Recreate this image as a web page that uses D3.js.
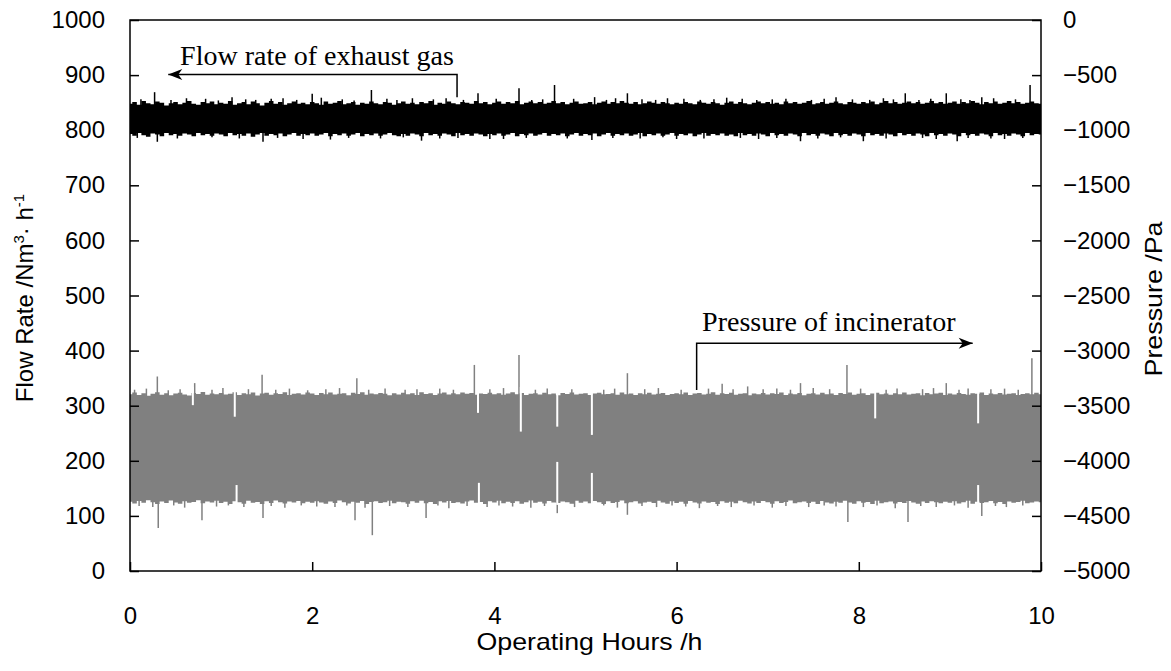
<!DOCTYPE html>
<meta charset="utf-8">
<style>
    body { margin: 0; background: #fff; }
    .axis text { font-family: "Liberation Sans", Arial, sans-serif; font-size: 24px; fill: #000; }
    .axis line { stroke: #000; stroke-width: 1.5; }
    .axis path { display: none; }
    .title { font-family: "Liberation Sans", Arial, sans-serif; font-size: 24px; fill: #000; }
    .note { font-family: "Liberation Serif", "Times New Roman", serif; font-size: 28px; fill: #000; }
</style>
<svg width="1171" height="671"></svg>
<script src="https://cdn.jsdelivr.net/npm/d3@7"></script>
<script>
    // x grid: one envelope sample every 0.05 h
    var sampleHours = d3.range(201).map(i => i / 20);

    // flow rate of exhaust gas, Nm3/h : upper / lower edge of the band
    var flowUpper = [
        848,851,846,853,849,847,852,850,845,849,851,847,850,853,848,846,851,849,852,847,
        850,848,853,846,849,851,847,852,849,845,850,853,848,851,846,849,852,848,850,847,
        851,849,846,852,848,850,853,847,849,851,846,850,848,852,849,847,851,850,846,849,
        852,848,850,847,851,849,853,846,850,848,852,849,847,851,850,848,853,849,851,847,
        850,852,848,851,849,853,847,850,852,849,851,848,850,853,849,851,847,850,852,848,
        849,851,847,850,852,848,851,849,853,850,848,851,847,849,852,850,848,851,849,847,
        850,848,851,849,847,852,850,848,851,849,846,850,852,848,851,849,847,850,852,849,
        851,848,850,847,852,849,851,848,850,853,847,849,851,848,850,852,849,847,851,850,
        848,851,849,852,847,850,853,849,851,848,850,852,849,851,848,850,853,849,851,848,
        850,852,848,851,849,853,850,847,851,849,852,848,850,853,849,851,848,850,852,849,
        848
    ];
    var flowLower = [
        793,790,795,791,788,794,792,789,795,791,793,790,794,792,789,795,791,793,790,794,
        792,789,795,791,793,790,794,788,792,795,790,793,791,794,789,792,795,790,793,791,
        794,790,792,795,789,793,791,794,790,792,795,789,793,791,794,790,792,795,791,789,
        793,790,794,792,789,795,791,793,790,794,792,789,795,791,793,790,794,792,789,793,
        791,794,790,792,795,789,793,791,794,790,792,795,790,793,791,794,789,792,795,790,
        793,791,794,789,792,795,790,793,791,794,790,792,795,789,793,791,794,790,792,795,
        790,793,791,794,789,792,795,790,793,791,794,790,792,789,795,791,793,790,794,792,
        789,795,791,793,790,794,792,789,795,791,793,790,794,792,789,795,791,793,790,794,
        792,789,795,791,793,790,794,792,789,795,791,793,790,794,792,789,795,791,793,790,
        794,792,789,795,791,793,790,794,792,789,795,791,793,790,794,792,789,795,791,793,
        792
    ];
    // single spikes of the flow signal [hour, Nm3/h]
    var flowSpikes = [
        [0.27,869],[0.62,858],[1.12,860],[1.55,857],[2.0,866],[2.1,859],[2.65,873],[3.1,858],
        [3.82,867],[4.27,876],[4.66,882],[5.1,860],[5.46,867],[5.9,858],[6.55,859],[7.2,857],
        [7.75,860],[8.51,867],[8.96,867],[9.35,860],[9.88,882],
        [0.12,856],[0.45,855],[0.83,857],[0.97,854],[1.27,856],[1.38,855],[1.68,858],[1.83,855],
        [2.33,856],[2.46,854],[2.82,857],[2.93,855],[3.33,856],[3.47,858],[3.66,855],[4.02,857],
        [4.41,855],[4.53,856],[4.87,857],[5.23,855],[5.33,858],[5.62,856],[5.77,855],[6.08,857],
        [6.26,855],[6.41,856],[6.72,857],[6.88,855],[7.05,856],[7.48,855],[7.62,857],[7.93,856],
        [8.12,855],[8.27,858],[8.38,856],[8.66,855],[8.79,857],[9.12,856],[9.22,855],[9.48,858],
        [9.72,856],
        [0.3,779],[1.46,779],[2.2,783],[3.2,781],[4.1,784],[5.07,782],[6.0,784],[7.36,780],
        [8.05,780],[9.08,780],[9.6,784],
        [0.08,786],[0.52,785],[0.9,787],[1.2,785],[1.62,786],[1.9,784],[2.4,786],[2.75,785],
        [3.0,787],[3.4,785],[3.6,786],[3.95,784],[4.35,786],[4.8,785],[5.3,786],[5.6,785],
        [5.85,787],[6.3,785],[6.7,786],[6.9,784],[7.1,786],[7.55,785],[7.8,787],[8.3,785],
        [8.7,786],[8.85,784],[9.2,786],[9.45,785],[9.8,786]
    ];

    // pressure of incinerator, Pa : upper / lower edge of the band
    var pressureUpper = [
        -3395,-3380,-3402,-3388,-3410,-3392,-3378,-3400,-3386,-3405,-3390,-3382,-3398,-3408,-3385,-3393,-3376,-3401,-3389,-3396,
        -3384,-3399,-3391,-3377,-3404,-3388,-3395,-3381,-3407,-3390,-3383,-3400,-3387,-3394,-3379,-3402,-3392,-3386,-3398,-3381,
        -3390,-3403,-3385,-3396,-3380,-3399,-3391,-3387,-3406,-3383,-3394,-3378,-3401,-3389,-3397,-3384,-3392,-3405,-3386,-3399,
        -3382,-3395,-3388,-3402,-3379,-3393,-3386,-3404,-3390,-3381,-3398,-3387,-3396,-3380,-3392,-3385,-3401,-3389,-3394,-3383,
        -3397,-3386,-3401,-3390,-3378,-3395,-3384,-3403,-3391,-3388,-3399,-3382,-3396,-3389,-3405,-3385,-3393,-3380,-3398,-3392,
        -3387,-3402,-3390,-3383,-3397,-3393,-3386,-3400,-3381,-3395,-3389,-3404,-3388,-3396,-3382,-3399,-3391,-3385,-3402,-3394,
        -3388,-3396,-3381,-3403,-3390,-3385,-3398,-3392,-3379,-3401,-3387,-3394,-3383,-3400,-3391,-3386,-3405,-3389,-3397,-3384,
        -3399,-3386,-3393,-3380,-3402,-3389,-3395,-3384,-3406,-3391,-3388,-3398,-3382,-3396,-3390,-3403,-3385,-3394,-3381,-3400,
        -3392,-3387,-3404,-3390,-3383,-3397,-3389,-3401,-3386,-3395,-3380,-3399,-3391,-3388,-3405,-3384,-3396,-3390,-3382,-3402,
        -3389,-3398,-3385,-3394,-3400,-3387,-3392,-3381,-3403,-3390,-3396,-3384,-3399,-3391,-3386,-3404,-3393,-3388,-3397,-3383,
        -3395
    ];
    var pressureLower = [
        -4372,-4388,-4365,-4380,-4358,-4376,-4392,-4369,-4383,-4361,-4378,-4390,-4367,-4381,-4374,-4359,-4386,-4370,-4379,-4363,
        -4384,-4371,-4393,-4366,-4377,-4389,-4362,-4380,-4373,-4391,-4368,-4382,-4360,-4375,-4387,-4370,-4379,-4364,-4385,-4372,
        -4381,-4366,-4378,-4390,-4369,-4383,-4361,-4376,-4388,-4372,-4380,-4365,-4392,-4374,-4368,-4384,-4377,-4363,-4386,-4371,
        -4375,-4389,-4367,-4380,-4362,-4385,-4373,-4391,-4368,-4379,-4364,-4382,-4376,-4388,-4370,-4360,-4381,-4374,-4393,-4366,
        -4378,-4363,-4386,-4371,-4383,-4367,-4390,-4375,-4361,-4380,-4372,-4387,-4365,-4379,-4384,-4369,-4376,-4389,-4362,-4381,
        -4370,-4385,-4364,-4377,-4391,-4368,-4382,-4373,-4360,-4386,-4375,-4366,-4388,-4379,-4371,-4384,-4363,-4378,-4390,-4367,
        -4383,-4372,-4389,-4365,-4378,-4387,-4369,-4381,-4374,-4392,-4366,-4380,-4371,-4385,-4362,-4377,-4388,-4370,-4382,-4364,
        -4376,-4390,-4368,-4383,-4373,-4361,-4386,-4377,-4369,-4384,-4371,-4393,-4365,-4379,-4387,-4372,-4381,-4363,-4378,-4389,
        -4367,-4380,-4374,-4391,-4362,-4385,-4376,-4369,-4388,-4373,-4382,-4364,-4379,-4390,-4370,-4384,-4366,-4377,-4386,-4372,
        -4381,-4368,-4387,-4375,-4363,-4389,-4371,-4382,-4377,-4365,-4386,-4373,-4391,-4369,-4380,-4374,-4362,-4385,-4378,-4370,
        -4376
    ];
    // single spikes of the pressure signal [hour, Pa]
    var pressureSpikes = [
        [0.30,-3235],[0.71,-3295],[1.45,-3220],[2.49,-3250],[3.78,-3130],[4.27,-3040],[5.46,-3205],
        [6.5,-3300],[7.36,-3295],[7.87,-3130],[8.96,-3295],[9.9,-3070],
        [0.05,-3355],[0.18,-3345],[0.42,-3360],[0.55,-3350],[0.9,-3355],[1.02,-3340],[1.3,-3350],
        [1.6,-3355],[1.75,-3345],[1.95,-3360],[2.15,-3350],[2.3,-3340],[2.62,-3355],[2.8,-3345],
        [3.02,-3355],[3.15,-3350],[3.4,-3345],[3.55,-3355],[3.95,-3350],[4.1,-3340],[4.45,-3355],
        [4.58,-3345],[4.85,-3350],[5.2,-3355],[5.32,-3345],[5.65,-3350],[5.8,-3340],[6.05,-3355],
        [6.35,-3345],[6.62,-3350],[6.78,-3325],[6.95,-3350],[7.1,-3345],[7.25,-3355],[7.5,-3340],
        [7.68,-3350],[8.02,-3345],[8.3,-3355],[8.42,-3345],[8.7,-3350],[8.82,-3340],[9.1,-3355],
        [9.2,-3345],[9.45,-3350],[9.6,-3345],[9.75,-3355],
        [0.31,-4610],[0.79,-4540],[1.46,-4520],[2.47,-4540],[2.66,-4675],[3.25,-4520],[4.69,-4475],
        [5.46,-4490],[7.88,-4555],[8.54,-4555],[9.35,-4500],
        [0.1,-4410],[0.25,-4420],[0.48,-4405],[0.6,-4425],[0.95,-4415],[1.08,-4405],[1.25,-4420],
        [1.55,-4410],[1.7,-4425],[1.88,-4405],[2.05,-4415],[2.25,-4420],[2.38,-4405],[2.58,-4425],
        [2.85,-4410],[3.05,-4420],[3.38,-4405],[3.5,-4430],[3.7,-4410],[3.92,-4420],[4.05,-4405],
        [4.2,-4415],[4.4,-4425],[4.55,-4410],[4.88,-4420],[5.2,-4405],[5.35,-4425],[5.62,-4410],
        [5.78,-4420],[5.95,-4405],[6.1,-4415],[6.25,-4430],[6.45,-4410],[6.6,-4420],[6.85,-4405],
        [7.05,-4425],[7.2,-4410],[7.45,-4420],[7.62,-4405],[7.75,-4415],[8.05,-4420],[8.2,-4405],
        [8.4,-4430],[8.68,-4410],[8.85,-4420],[9.05,-4405],[9.2,-4425],[9.5,-4410],[9.62,-4420],
        [9.8,-4405]
    ];
    // short dropouts in the pressure band [hour, from Pa, to Pa]
    var pressureGaps = [
        [0.69,-3330,-3495],[1.15,-3330,-3600],[1.17,-4450,-4220],[3.82,-3330,-3565],[3.83,-4450,-4200],
        [4.29,-3330,-3735],[4.69,-3330,-3690],[4.69,-4010,-4400],[5.07,-3330,-3765],[5.07,-4110,-4450],
        [8.18,-3330,-3615],[9.31,-3330,-3660],[9.31,-4450,-4220]
    ];

    // axis ticks
    var hourTicks = [0, 2, 4, 6, 8, 10];
    var flowTicks = [0, 100, 200, 300, 400, 500, 600, 700, 800, 900, 1000];
    var pressureTicks = [0, -500, -1000, -1500, -2000, -2500, -3000, -3500, -4000, -4500, -5000];

    var svg = d3.select('svg'),
        margin = { top: 20, right: 130, bottom: 100, left: 130 },
        width = +svg.attr('width') - margin.left - margin.right,
        height = +svg.attr('height') - margin.top - margin.bottom;

    var x = d3.scaleLinear().domain([0, 10]).range([0, width]),
        yFlow = d3.scaleLinear().domain([0, 1000]).range([height, 0]),
        yPres = d3.scaleLinear().domain([-5000, 0]).range([height, 0]);

    var g = svg.append('g')
        .attr('transform', 'translate(' + margin.left + ',' + margin.top + ')');

    g.append('clipPath').attr('id', 'plot')
        .append('rect').attr('width', width).attr('height', height);

    var marks = g.append('g').attr('clip-path', 'url(#plot)');

    // pressure band (grey)
    var pressureArea = d3.area()
        .x((d, i) => x(sampleHours[i]))
        .y0((d, i) => yPres(pressureLower[i]))
        .y1(d => yPres(d))
        .curve(d3.curveStep);
    marks.append('path')
        .datum(pressureUpper)
        .attr('fill', '#808080')
        .attr('d', pressureArea);

    marks.selectAll('.pspike')
        .data(pressureSpikes)
        .enter().append('line')
        .attr('class', 'pspike')
        .attr('x1', d => x(d[0])).attr('x2', d => x(d[0]))
        .attr('y1', yPres(-3880)).attr('y2', d => yPres(d[1]))
        .attr('stroke', '#808080').attr('stroke-width', 1.5);

    marks.selectAll('.pgap')
        .data(pressureGaps)
        .enter().append('line')
        .attr('class', 'pgap')
        .attr('x1', d => x(d[0])).attr('x2', d => x(d[0]))
        .attr('y1', d => yPres(d[1])).attr('y2', d => yPres(d[2]))
        .attr('stroke', '#fff').attr('stroke-width', 2);

    // flow band (black)
    var flowArea = d3.area()
        .x((d, i) => x(sampleHours[i]))
        .y0((d, i) => yFlow(flowLower[i]))
        .y1(d => yFlow(d))
        .curve(d3.curveStep);
    marks.append('path')
        .datum(flowUpper)
        .attr('fill', '#000')
        .attr('d', flowArea);

    marks.selectAll('.fspike')
        .data(flowSpikes)
        .enter().append('line')
        .attr('class', 'fspike')
        .attr('x1', d => x(d[0])).attr('x2', d => x(d[0]))
        .attr('y1', yFlow(820)).attr('y2', d => yFlow(d[1]))
        .attr('stroke', '#000').attr('stroke-width', 1.5);

    // axes, ticks pointing inward
    var fmt = d3.format('d');
    g.append('g').attr('class', 'axis')
        .call(d3.axisLeft(yFlow).tickValues(flowTicks).tickFormat(fmt)
            .tickSizeInner(-9).tickSizeOuter(0).tickPadding(25));

    g.append('g').attr('class', 'axis')
        .attr('transform', 'translate(' + width + ',0)')
        .call(d3.axisRight(yPres).tickValues(pressureTicks).tickFormat(fmt)
            .tickSizeInner(-9).tickSizeOuter(0).tickPadding(22));

    g.append('g').attr('class', 'axis')
        .attr('transform', 'translate(0,' + height + ')')
        .call(d3.axisBottom(x).tickValues(hourTicks).tickFormat(fmt)
            .tickSizeInner(-9).tickSizeOuter(0).tickPadding(36));

    g.append('rect')
        .attr('width', width).attr('height', height)
        .attr('fill', 'none').attr('stroke', '#000').attr('stroke-width', 1.5);

    // axis titles
    svg.append('text').attr('class', 'title')
        .attr('x', margin.left + width / 2 + 4).attr('y', 650)
        .attr('text-anchor', 'middle')
        .attr('textLength', 226).attr('lengthAdjust', 'spacingAndGlyphs')
        .text('Operating Hours /h');

    var lt = svg.append('text').attr('class', 'title')
        .attr('transform', 'translate(33,298) rotate(-90)')
        .attr('text-anchor', 'middle');
    lt.append('tspan').text('Flow Rate /Nm');
    lt.append('tspan').attr('dy', -9).attr('font-size', 15).text('3');
    lt.append('tspan').attr('dy', 9).text('· h');
    lt.append('tspan').attr('dy', -9).attr('font-size', 15).text('-1');

    svg.append('text').attr('class', 'title')
        .attr('transform', 'translate(1162,299) rotate(-90)')
        .attr('text-anchor', 'middle')
        .attr('textLength', 155).attr('lengthAdjust', 'spacingAndGlyphs')
        .text('Pressure /Pa');

    // annotations with arrows
    var defs = svg.append('defs');
    defs.append('marker')
        .attr('id', 'arrow')
        .attr('viewBox', '-15 -6 16 12')
        .attr('markerUnits', 'userSpaceOnUse')
        .attr('markerWidth', 16).attr('markerHeight', 12)
        .attr('refX', 0).attr('refY', 0)
        .attr('orient', 'auto')
        .append('path')
        .attr('d', 'M0,0L-14,-5.5L-10,0L-14,5.5Z')
        .attr('fill', '#000');

    g.append('path')
        .attr('d', 'M' + x(3.59) + ',' + yFlow(860) + 'V' + yFlow(901) + 'H' + x(0.42))
        .attr('fill', 'none').attr('stroke', '#000').attr('stroke-width', 1.5)
        .attr('marker-end', 'url(#arrow)');
    g.append('text').attr('class', 'note')
        .attr('x', x(0.55)).attr('y', yFlow(918))
        .text('Flow rate of exhaust gas');

    g.append('path')
        .attr('d', 'M' + x(6.22) + ',' + yPres(-3357) + 'V' + yPres(-2933) + 'H' + x(9.25))
        .attr('fill', 'none').attr('stroke', '#000').attr('stroke-width', 1.5)
        .attr('marker-end', 'url(#arrow)');
    g.append('text').attr('class', 'note')
        .attr('x', x(6.28)).attr('y', yPres(-2820))
        .text('Pressure of incinerator');
</script>
